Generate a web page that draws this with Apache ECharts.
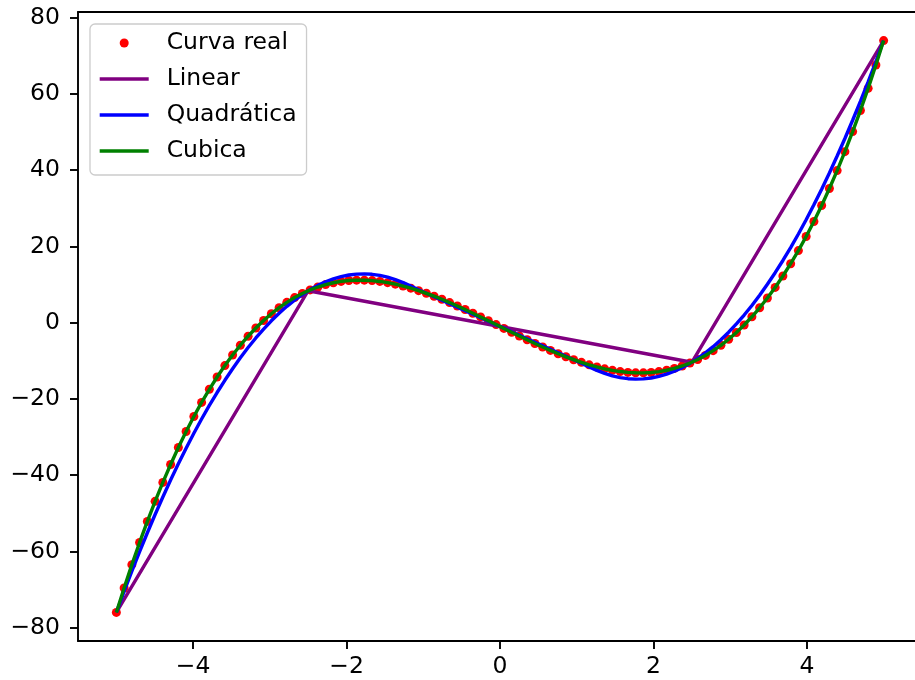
<!DOCTYPE html>
<html>
<head>
<meta charset="utf-8">
<script src="https://cdn.jsdelivr.net/npm/echarts@6/dist/echarts.min.js"></script>
<style>
html,body{margin:0;padding:0;background:#fff;}
#chart{width:915px;height:680px;}
</style>
</head>
<body>
<div id="chart"></div>
<script>
const xValues = [-5,-4.899,-4.798,-4.697,-4.596,-4.495,-4.394,-4.293,-4.192,-4.091,-3.99,-3.889,-3.788,-3.687,-3.586,-3.485,-3.384,-3.283,-3.182,-3.081,-2.98,-2.879,-2.778,-2.677,-2.576,-2.475,-2.374,-2.273,-2.172,-2.071,-1.97,-1.869,-1.768,-1.667,-1.566,-1.465,-1.364,-1.263,-1.162,-1.061,-0.96,-0.859,-0.758,-0.657,-0.556,-0.455,-0.354,-0.253,-0.152,-0.051,0.051,0.152,0.253,0.354,0.455,0.556,0.657,0.758,0.859,0.96,1.061,1.162,1.263,1.364,1.465,1.566,1.667,1.768,1.869,1.97,2.071,2.172,2.273,2.374,2.475,2.576,2.677,2.778,2.879,2.98,3.081,3.182,3.283,3.384,3.485,3.586,3.687,3.788,3.889,3.99,4.091,4.192,4.293,4.394,4.495,4.596,4.697,4.798,4.899,5];

const realY = [-76.00,-69.59,-63.47,-57.65,-52.12,-46.87,-41.89,-37.19,-32.74,-28.55,
-24.62,-20.92,-17.47,-14.25,-11.25,-8.47,-5.91,-3.55,-1.39,0.57,
2.34,3.93,5.34,6.59,7.67,8.59,9.36,9.99,10.47,10.83,
11.06,11.16,11.15,11.04,10.82,10.50,10.10,9.61,9.05,8.41,
7.71,6.95,6.14,5.28,4.38,3.45,2.49,1.51,0.51,-0.50,
-1.50,-2.51,-3.51,-4.49,-5.45,-6.38,-7.28,-8.14,-8.95,-9.71,
-10.41,-11.05,-11.61,-12.10,-12.50,-12.82,-13.04,-13.15,-13.16,-13.06,
-12.83,-12.47,-11.99,-11.36,-10.59,-9.67,-8.59,-7.34,-5.93,-4.34,
-2.57,-0.61,1.55,3.91,6.47,9.25,12.25,15.47,18.92,22.62,
26.55,30.74,35.19,39.89,44.87,50.12,55.65,61.47,67.59,74.00];

const linearX = [-5, -2.5, 0, 2.5, 5];
const linearY = [-76, 8.38, -1, -10.38, 74];

const quadY = [-76.00,-70.51,-65.20,-60.07,-55.10,-50.32,-45.71,-41.27,-37.01,-32.92,
-29.01,-25.27,-21.71,-18.32,-15.11,-12.07,-9.21,-6.52,-4.01,-1.67,
0.49,2.48,4.29,5.93,7.39,8.68,9.79,10.73,11.50,12.08,
12.50,12.74,12.80,12.69,12.40,11.94,11.31,10.50,9.58,8.66,
7.74,6.82,5.90,4.98,4.06,3.14,2.22,1.30,0.38,-0.54,
-1.46,-2.38,-3.30,-4.22,-5.14,-6.06,-6.98,-7.90,-8.82,-9.74,
-10.66,-11.58,-12.50,-13.31,-13.94,-14.40,-14.69,-14.80,-14.74,-14.50,
-14.08,-13.50,-12.73,-11.79,-10.68,-9.39,-7.93,-6.29,-4.48,-2.49,
-0.33,2.01,4.52,7.21,10.07,13.11,16.32,19.71,23.27,27.01,
30.92,35.01,39.27,43.71,48.32,53.10,58.07,63.20,68.51,74.00];

// cubic spline through a cubic reproduces the real curve exactly
const cubicY = realY;

const xTicks = [-4, -2, 0, 2, 4];
const yTicks = [-80, -60, -40, -20, 0, 20, 40, 60, 80];
const seriesNames = ['Curva real', 'Linear', 'Quadrática', 'Cubica'];

const pair = (xs, ys) => xs.map((x, i) => [x, ys[i]]);
const fmt = v => (v < 0 ? '\u2212' + Math.abs(v) : String(v));
const FONT = 'DejaVu Sans';
const FS = 23.5;
const LW = 3.4;

const chart = echarts.init(document.getElementById('chart'), null, {renderer: 'canvas'});
chart.setOption({
  animation: false,
  backgroundColor: '#ffffff',
  grid: {
    left: 78, top: 12, width: 844, height: 629,
    outerBoundsMode: 'none', containLabel: false,
    show: false
  },
  legend: {
    orient: 'vertical',
    left: 90, top: 24,
    data: [
      {name: seriesNames[0]},
      {name: seriesNames[1], itemStyle: {opacity: 0}},
      {name: seriesNames[2], itemStyle: {opacity: 0}},
      {name: seriesNames[3], itemStyle: {opacity: 0}}
    ],
    itemWidth: 49, itemHeight: 9, itemGap: 12,
    padding: [7, 10, 12, 8],
    backgroundColor: 'rgba(255,255,255,0.85)',
    borderColor: '#cccccc', borderWidth: 1.3, borderRadius: 5,
    lineStyle: {width: LW},
    textStyle: {fontFamily: FONT, fontSize: FS, color: '#000', padding: [0, 0, 0, 13]}
  },
  xAxis: [{
    type: 'value', min: -5.5, max: 5.5, position: 'bottom',
    splitLine: {show: false},
    axisLine: {show: true, onZero: false, lineStyle: {color: '#000', width: 1.9}},
    axisTick: {show: true, length: 8, lineStyle: {color: '#000', width: 1.9}, customValues: xTicks},
    axisLabel: {customValues: xTicks, formatter: fmt, fontFamily: FONT, fontSize: FS, color: '#000', margin: 14}
  }, {
    type: 'value', min: -5.5, max: 5.5, position: 'top',
    splitLine: {show: false},
    axisLine: {show: true, onZero: false, lineStyle: {color: '#000', width: 1.9}},
    axisTick: {show: false},
    axisLabel: {show: false}
  }],
  yAxis: {
    type: 'value', min: -83.5, max: 81.5,
    splitLine: {show: false},
    axisLine: {show: true, onZero: false, lineStyle: {color: '#000', width: 1.9}},
    axisTick: {show: true, length: 8, lineStyle: {color: '#000', width: 1.9}, customValues: yTicks},
    axisLabel: {customValues: yTicks, formatter: fmt, fontFamily: FONT, fontSize: FS, color: '#000', margin: 18}
  },
  series: [
    {
      name: seriesNames[0], type: 'scatter',
      data: pair(xValues, realY),
      symbol: 'circle', symbolSize: 9,
      itemStyle: {color: '#ff0000', opacity: 1}
    },
    {
      name: seriesNames[1], type: 'line',
      data: pair(linearX, linearY),
      symbol: 'none', lineStyle: {color: '#800080', width: LW}, itemStyle: {color: '#800080'}
    },
    {
      name: seriesNames[2], type: 'line',
      data: pair(xValues, quadY),
      symbol: 'none', lineStyle: {color: '#0000ff', width: LW}, itemStyle: {color: '#0000ff'}
    },
    {
      name: seriesNames[3], type: 'line',
      data: pair(xValues, cubicY),
      symbol: 'none', lineStyle: {color: '#008000', width: LW}, itemStyle: {color: '#008000'}
    }
  ]
});
</script>
</body>
</html>
